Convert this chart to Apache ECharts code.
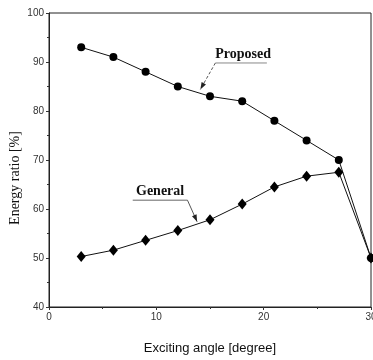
<!DOCTYPE html>
<html><head><meta charset="utf-8">
<script src="https://cdn.jsdelivr.net/npm/echarts@6/dist/echarts.min.js"></script>
<style>html,body{margin:0;padding:0;background:#fff}#c{width:373px;height:360px}</style>
</head><body><div id="c"></div>
<script>
const angles = [3, 6, 9, 12, 15, 18, 21, 24, 27, 30];
const proposed = [93, 91, 88, 85, 83, 82, 78, 74, 70, 50];
const general = [50.3, 51.6, 53.6, 55.6, 57.8, 61, 64.5, 66.7, 67.5, 50];
const xTicks = [0, 10, 20, 30];
const yTicks = [40, 50, 60, 70, 80, 90, 100];

const chart = echarts.init(document.getElementById('c'));
const axisCommon = {
  axisLine: {show: true, lineStyle: {color: '#222', width: 1}},
  axisTick: {show: true, inside: false, length: 3, lineStyle: {color: '#333'}},
  minorTick: {show: true, splitNumber: 2, length: 2, lineStyle: {color: '#333'}},
  splitLine: {show: false},
  axisLabel: {color: '#333', fontSize: 10, fontFamily: 'Liberation Sans Narrow, Liberation Sans, Arial', margin: 5}
};
chart.setOption({
  animation: false,
  grid: {left: 49, right: 2, top: 13, bottom: 53, containLabel: false, outerBoundsMode: 'none',
    show: true, borderColor: '#222', borderWidth: 1},
  xAxis: Object.assign({type: 'value', min: 0, max: 30, interval: 10,
    name: 'Exciting angle [degree]', nameLocation: 'middle', nameGap: 35,
    nameTextStyle: {fontSize: 13, color: '#111', fontFamily: 'Liberation Sans, Arial'}}, axisCommon),
  yAxis: Object.assign({type: 'value', min: 40, max: 100, interval: 10,
    name: 'Energy ratio [%]', nameLocation: 'middle', nameGap: 27, nameMoveOverlap: false,
    nameTextStyle: {fontSize: 14, color: '#111', fontFamily: 'Liberation Serif, Times New Roman, serif', padding: [0, 36, 0, 0]}}, axisCommon),
  series: [
    {type: 'line', name: 'Proposed', data: angles.map((a, i) => [a, proposed[i]]),
     symbol: 'circle', symbolSize: 8, itemStyle: {color: '#000'}, lineStyle: {color: '#111', width: 1}},
    {type: 'line', name: 'General', data: angles.map((a, i) => [a, general[i]]),
     symbol: 'diamond', symbolSize: [9, 11], itemStyle: {color: '#000'}, lineStyle: {color: '#111', width: 1}}
  ]
});

function P(x, y) { return chart.convertToPixel({gridIndex: 0}, [x, y]); }
function arrowHead(tip, from, len, w) {
  const dx = tip[0] - from[0], dy = tip[1] - from[1];
  const L = Math.hypot(dx, dy), ux = dx / L, uy = dy / L;
  const bx = tip[0] - ux * len, by = tip[1] - uy * len;
  return [[tip[0], tip[1]], [bx - uy * w, by + ux * w], [bx + uy * w, by - ux * w]];
}
const pU0 = P(15.5, 89.8), pU1 = P(20.3, 89.8), pTip = P(14.1, 84.4);
const gU0 = P(7.8, 61.8), gU1 = P(12.9, 61.8), gTip = P(13.8, 57.4);
const serif = 'Liberation Serif, Times New Roman, serif';
chart.setOption({
  graphic: [
    {type: 'text', x: (pU0[0] + pU1[0]) / 2 + 2, y: pU0[1] - 2, style: {text: 'Proposed', font: 'bold 14px ' + serif, fill: '#111', textAlign: 'center', textVerticalAlign: 'bottom'}},
    {type: 'line', shape: {x1: pU0[0], y1: pU0[1], x2: pU1[0], y2: pU1[1]}, style: {stroke: '#888', lineWidth: 1}},
    {type: 'line', shape: {x1: pU0[0], y1: pU0[1], x2: pTip[0], y2: pTip[1]}, style: {stroke: '#555', lineWidth: 1, lineDash: [3, 2]}},
    {type: 'polygon', shape: {points: arrowHead(pTip, pU0, 7, 2.5)}, style: {fill: '#222'}},
    {type: 'text', x: (gU0[0] + gU1[0]) / 2, y: gU0[1] - 2, style: {text: 'General', font: 'bold 14px ' + serif, fill: '#111', textAlign: 'center', textVerticalAlign: 'bottom'}},
    {type: 'line', shape: {x1: gU0[0], y1: gU0[1], x2: gU1[0], y2: gU1[1]}, style: {stroke: '#666', lineWidth: 1}},
    {type: 'line', shape: {x1: gU1[0], y1: gU1[1], x2: gTip[0], y2: gTip[1]}, style: {stroke: '#555', lineWidth: 1}},
    {type: 'polygon', shape: {points: arrowHead(gTip, gU1, 7, 2.5)}, style: {fill: '#222'}}
  ]
});
</script></body></html>
